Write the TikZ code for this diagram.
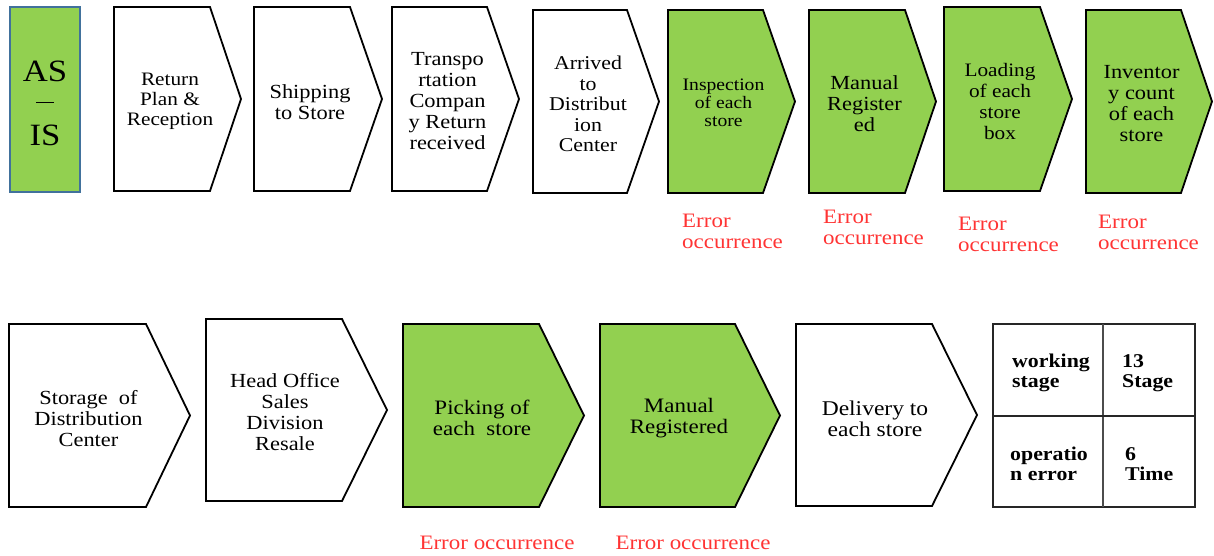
\documentclass[tikz,border=0pt]{standalone}
\usepackage{fontspec}
\setmainfont{Liberation Serif}[FakeStretch=1.12]
\usepackage{tikz}
\usepackage{xcolor}
\usetikzlibrary{positioning}
\definecolor{StageGreen}{HTML}{92D050}
\definecolor{AsIsBlue}{HTML}{41719C}
\definecolor{ErrRed}{HTML}{FF3434}

\begin{document}
\begin{tikzpicture}[x=1pt, y=-1pt,
    stage/.style={draw=black, line width=1.8pt, line join=miter, fill=white},
    greenstage/.style={stage, fill=StageGreen},
    label/.style={align=center, inner sep=0pt, font=\fontsize{20}{21}\selectfont},
    errlabel/.style={align=left, anchor=west, inner sep=0pt, text=ErrRed, font=\fontsize{20.5}{21}\selectfont},
    cell/.style={align=left, anchor=west, inner sep=0pt, font=\bfseries\fontsize{19.5}{20}\selectfont}]
    \useasboundingbox (0,0) rectangle (1214,555);

    % AS-IS tag
    \draw[fill=StageGreen, draw=AsIsBlue, line width=1.8pt] (10,7) rectangle (80,192);
    \node[align=center, inner sep=0pt, font=\fontsize{31}{32}\selectfont] (asis) at (45,103) {AS\\\rule[0.32em]{17pt}{1pt}\\IS};

    % Top row of process steps
    \draw[stage] (114,7) -- (210,7) -- (241,99) -- (210,191) -- (114,191) -- cycle;
    \node[label, font=\fontsize{19}{20}\selectfont] (ret) at (170,101) {Return\\Plan \&\\Reception};

    \draw[stage] (254,7) -- (350,7) -- (382,99) -- (350,191) -- (254,191) -- cycle;
    \node[label] (ship) at (310,102.5) {Shipping\\to Store};

    \draw[stage] (392,7) -- (487,7) -- (519,99) -- (487,191) -- (392,191) -- cycle;
    \node[label] (trans) at (447.5,101.5) {Transpo\\rtation\\Compan\\y Return\\received};

    \draw[stage] (533,10) -- (627,10) -- (659,101.5) -- (627,193) -- (533,193) -- cycle;
    \node[label, font=\fontsize{19.5}{20.5}\selectfont] (arrive) at (588,104) {Arrived\\to\\Distribut\\ion\\Center};

    \draw[greenstage] (668,10) -- (763,10) -- (795,101.5) -- (763,193) -- (668,193) -- cycle;
    \node[label, font=\fontsize{17.5}{18}\selectfont] (insp) at (723.5,103) {Inspection\\of each\\store};

    \draw[greenstage] (809,10) -- (905,10) -- (936,101.5) -- (905,193) -- (809,193) -- cycle;
    \node[label] (manreg) at (864.5,103.5) {Manual\\Register\\ed};

    \draw[greenstage] (944,7) -- (1040,7) -- (1072,99) -- (1040,191) -- (944,191) -- cycle;
    \node[label, font=\fontsize{19}{21}\selectfont] (load) at (1000,101.5) {Loading\\of each\\store\\box};

    \draw[greenstage] (1086,10) -- (1181,10) -- (1212,101.5) -- (1181,193) -- (1086,193) -- cycle;
    \node[label] (invent) at (1141.5,103.5) {Inventor\\y count\\of each\\store};

    % Error notes under the top row
    \node[errlabel] (errinsp) at (682,231.5) {Error\\occurrence};
    \node[errlabel] (errmanreg) at (823,227) {Error\\occurrence};
    \node[errlabel] (errload) at (958,234) {Error\\occurrence};
    \node[errlabel] (errinvent) at (1098,232.5) {Error\\occurrence};

    % Bottom row of process steps
    \draw[stage] (9,324) -- (146,324) -- (190,415.5) -- (146,507) -- (9,507) -- cycle;
    \node[label] (storage) at (88.5,419) {Storage~~of\\Distribution\\Center};

    \draw[stage] (206,319) -- (342,319) -- (387,410) -- (342,501) -- (206,501) -- cycle;
    \node[label] (resale) at (285,412.5) {Head Office\\Sales\\Division\\Resale};

    \draw[greenstage] (403,324) -- (539,324) -- (584,415.5) -- (539,507) -- (403,507) -- cycle;
    \node[label, font=\fontsize{20.5}{21}\selectfont] (pick) at (482,417.5) {Picking of\\each~~store};

    \draw[greenstage] (600,324) -- (735,324) -- (780,415.5) -- (735,507) -- (600,507) -- cycle;
    \node[label, font=\fontsize{20.5}{21}\selectfont] (manreg2) at (679,418.5) {Manual\\Registered};

    \draw[stage] (796,324) -- (932,324) -- (977,415) -- (932,506) -- (796,506) -- cycle;
    \node[label, font=\fontsize{21}{21}\selectfont] (deliver) at (875,418.5) {Delivery to\\each store};

    % Error notes under the bottom row
    \node[errlabel, anchor=center] (errpick) at (497,543) {Error occurrence};
    \node[errlabel, anchor=center] (errmanreg2) at (693,543) {Error occurrence};

    % Summary table
    \draw[line width=1.5pt, black!85] (993,324) rectangle (1195,507);
    \draw[line width=1.5pt, black!70] (1103,324) -- (1103,507);
    \draw[line width=1.5pt, black!85] (993,416) -- (1195,416);
    \node[cell] (stagename) at (1012,373) {working\\stage};
    \node[cell] (stagecount) at (1122,373) {13\\Stage};
    \node[cell] (errname) at (1010,464) {operatio\\n error};
    \node[cell] (errcount) at (1125,464) {6\\Time};

\end{tikzpicture}
\end{document}
